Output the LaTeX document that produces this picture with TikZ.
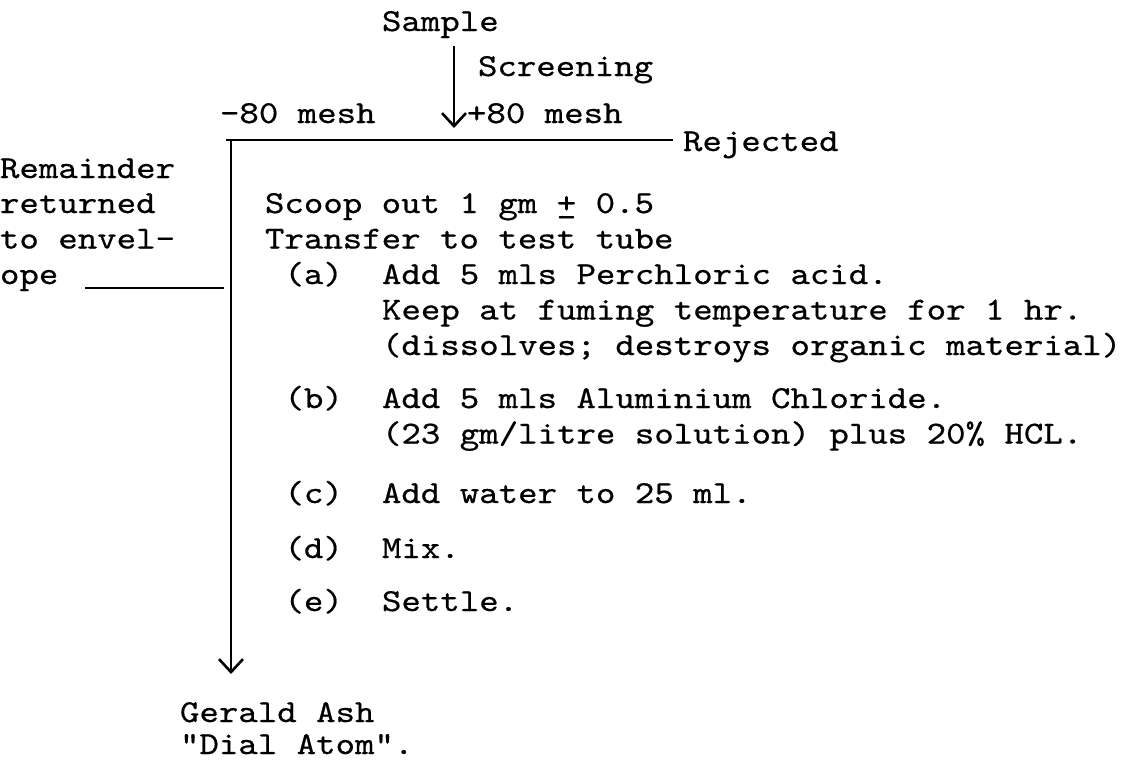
\documentclass[tikz,border=0pt]{standalone}
\usepackage{fontspec}
\newfontfamily\tw{lmmono10-regular}[Extension=.otf,FakeBold=0.6,FakeStretch=1.158]
\usetikzlibrary{arrows.meta}
\begin{document}
\begin{tikzpicture}[x=1pt,y=-1pt,
  txt/.style={anchor=base west,inner sep=0pt,outer sep=0pt,font=\tw\fontsize{32}{35.5}\selectfont},
  ink/.style={line width=2.6pt},
  arr/.style={ink,-{Straight Barb[length=13pt,width=24pt,line width=2.6pt]}}]
\useasboundingbox (0,0) rectangle (1121,764);
\fill[white] (0,0) rectangle (1121,764);
% top part
\node[txt] (sample) at (382,31) {Sample};
\node[txt] (screening) at (478,76) {Screening};
\node[txt] (minus) at (220,123) {-80 mesh};
\node[txt] (plus) at (467,123) {+80 mesh};
\node[txt] (rejected) at (683,151) {Rejected};
% remainder
\node[txt] (rem1) at (0,178) {Remainder};
\node[txt] (rem2) at (0,213) {returned};
\node[txt] (rem3) at (0,248.5) {to envel-};
\node[txt] (rem4) at (0,284) {ope};
% main column
\node[txt] (scoop) at (265,213) {Scoop out 1 gm \rlap{\_}+ 0.5};
\node[txt] (transfer) at (265,248.5) {Transfer to test tube};
\node[txt] (la) at (284.5,284) {(a)};
\node[txt] (ta1) at (382,284) {Add 5 mls Perchloric acid.};
\node[txt] (ta2) at (382,319.5) {Keep at fuming temperature for 1 hr.};
\node[txt] (ta3) at (382,355) {(dissolves; destroys organic material)};
\node[txt] (lb) at (284.5,408) {(b)};
\node[txt] (tb1) at (382,408) {Add 5 mls Aluminium Chloride.};
\node[txt] (tb2) at (382,443.5) {(23 gm/litre solution) plus 20\% HCL.};
\node[txt] (lc) at (284.5,503) {(c)};
\node[txt] (tc) at (382,503) {Add water to 25 ml.};
\node[txt] (ld) at (284.5,558) {(d)};
\node[txt] (td) at (382,558) {Mix.};
\node[txt] (le) at (284.5,611) {(e)};
\node[txt] (te) at (382,611) {Settle.};
% result
\node[txt] (g1) at (180,722) {Gerald Ash};
\node[txt] (g2) at (180,754) {"Dial Atom".};
% connectors
\coordinate (s0) at (454,46);
\coordinate (s1) at (454,128);
\coordinate (hl) at (226,140);
\coordinate (hr) at (673,140);
\coordinate (vt) at (231,140);
\coordinate (vb) at (231,674);
\coordinate (rl) at (85,288);
\coordinate (rr) at (224,288);
\draw[arr] (s0) -- (s1);
\draw[ink] (hl) -- (hr);
\draw[arr] (vt) -- (vb);
\draw[ink] (rl) -- (rr);
\end{tikzpicture}
\end{document}
